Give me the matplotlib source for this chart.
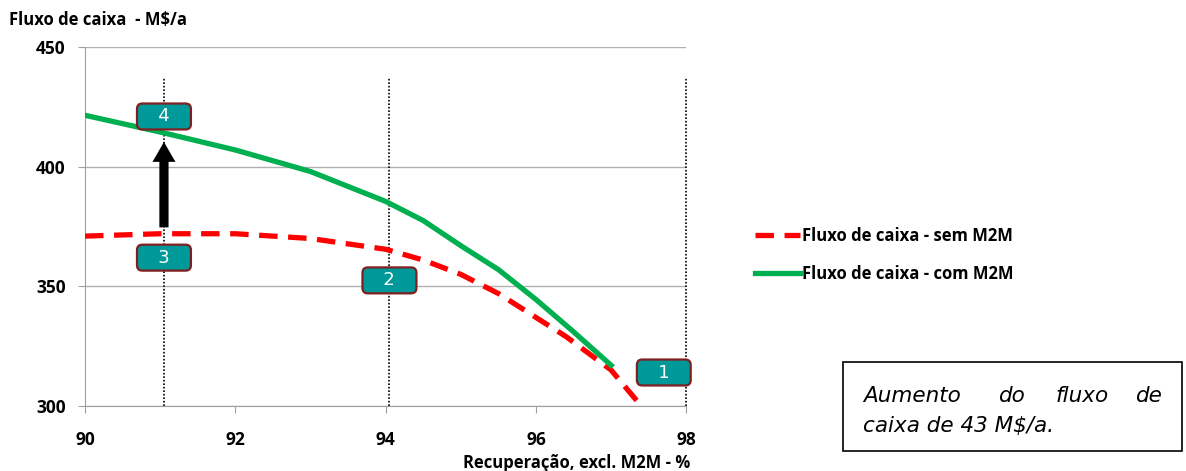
import matplotlib
matplotlib.use("Agg")
import matplotlib.pyplot as plt
from matplotlib.patches import Rectangle, FancyArrowPatch

# data
rec_sem = [90, 91, 92, 93, 94, 94.5, 95, 95.5, 96, 96.4, 96.7, 97, 97.4]
flux_sem = [371, 372, 372, 370, 365.5, 361, 355, 347, 337, 329, 322, 315, 300]
rec_com = [90, 91, 92, 93, 94, 94.5, 95, 95.5, 96, 96.5, 97]
flux_com = [421.5, 414.5, 407, 398, 385.5, 377.5, 367, 357, 344.5, 331, 317]
vlines_x = [91.05, 94.05, 98.0]
labels = [("4", 91.05, 421), ("3", 91.05, 362), ("2", 94.05, 352.5), ("1", 97.7, 314)]
arrow_from, arrow_to = 373.5, 411.5

plt.rcParams["font.family"] = ["Open Sans", "DejaVu Sans"]
plt.rcParams["font.weight"] = "bold"

fig = plt.figure(figsize=(11.86, 4.71), dpi=100)
ax = fig.add_axes([0.0717, 0.138, 0.507, 0.762])

ax.plot(rec_sem, flux_sem, color="#ff0000", lw=3.8, ls=(0, (3.5, 2.0)),
        label="Fluxo de caixa - sem M2M", zorder=3)
ax.plot(rec_com, flux_com, color="#00b050", lw=3.8,
        label="Fluxo de caixa - com M2M", zorder=3)

for xv in vlines_x:
    ax.axvline(xv, ymin=0, ymax=0.914, color="black", lw=1.2, ls=(0, (1, 1.1)),
               zorder=2, clip_on=False)

arrow = FancyArrowPatch((91.05, arrow_from), (91.05, arrow_to),
                        arrowstyle="simple,head_length=1.3,head_width=1.5,tail_width=0.6",
                        mutation_scale=11, color="black", lw=0, zorder=4)
ax.add_patch(arrow)

for txt, xv, yv in labels:
    ax.text(xv, yv, "   " + txt + "   ", ha="center", va="center", color="white",
            fontsize=13, family="DejaVu Sans", fontweight="normal", zorder=5,
            bbox=dict(boxstyle="round,pad=0.22,rounding_size=0.3", fc="#009999",
                      ec="#7f1f1f", lw=1.6))

ax.set_xlim(90, 98)
ax.set_ylim(300, 450)
ax.set_xticks([90, 92, 94, 96, 98])
ax.set_yticks([300, 350, 400, 450])
ax.grid(axis="y", color="#b0b0b0", lw=1)
ax.set_axisbelow(True)
for s in ["top", "right"]:
    ax.spines[s].set_visible(False)
for s in ["left", "bottom"]:
    ax.spines[s].set_color("#a0a0a0")
ax.tick_params(axis="y", direction="out", length=5, color="#a0a0a0", labelsize=12.5, pad=9)
ax.tick_params(axis="x", direction="out", length=5, color="#a0a0a0", labelsize=12.5, pad=13)

fig.text(0.008, 0.958, "Fluxo de caixa  - M$/a", fontsize=12, ha="left", va="center")
fig.text(0.582, 0.018, "Recuperação, excl. M2M - %", fontsize=12, ha="right", va="center")

fig.legend(loc="center left", bbox_to_anchor=(0.624, 0.458), frameon=False,
           handlelength=2.7, handletextpad=0.1, labelspacing=1.2,
           prop=dict(size=12, weight="bold"))

# note box
fig.patches.append(Rectangle((0.711, 0.042), 0.286, 0.189, transform=fig.transFigure,
                             fill=False, ec="black", lw=1.2))
words = ["Aumento", "do", "fluxo", "de"]
xs = [0.728, 0.853, 0.912, 0.980]
has = ["left", "center", "center", "right"]
for w, xv, h in zip(words, xs, has):
    fig.text(xv, 0.160, w, fontsize=15.5, style="italic", family="DejaVu Sans",
             fontweight="normal", ha=h, va="center")
fig.text(0.728, 0.096, "caixa de 43 M$/a.", fontsize=15.5, style="italic",
         family="DejaVu Sans", fontweight="normal", ha="left", va="center")

fig.savefig("out.png", dpi=100)
